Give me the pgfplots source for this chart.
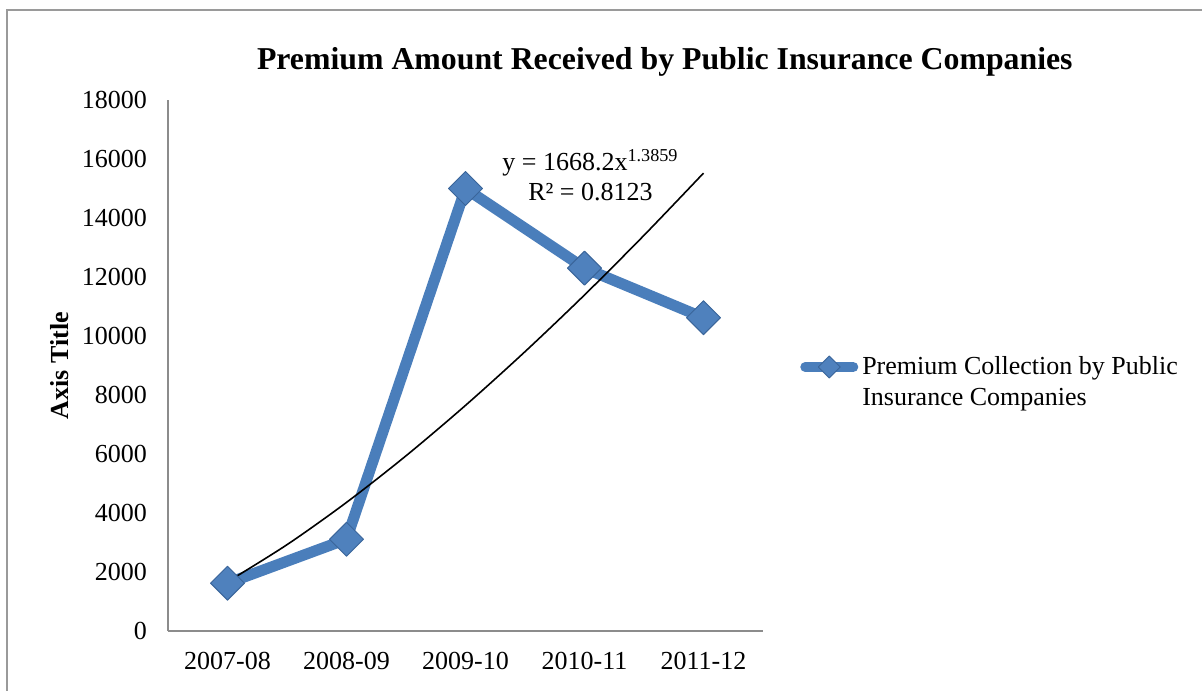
\documentclass[border=0pt]{standalone}
\usepackage{fontspec}
\setmainfont{Liberation Serif}
\usepackage{pgfplots}
\pgfplotsset{compat=1.18}
\definecolor{seriesblue}{HTML}{4A7EBB}
\definecolor{markblue}{HTML}{4F81BD}
\definecolor{markedge}{HTML}{3A659A}
\definecolor{framegray}{HTML}{9A9A9A}
\definecolor{axisgray}{HTML}{8C8C8C}
\begin{document}
\begin{tikzpicture}
% page: 1202 x 690 px at 0.5pt per px, origin top left
\fill[white] (0pt,0pt) rectangle (601pt,-345pt);
\useasboundingbox (0pt,0pt) rectangle (601pt,-345pt);
\draw[framegray, line width=0.8pt] (3.5pt,-360pt) -- (3.5pt,-5pt) -- (620pt,-5pt);
\begin{axis}[
    at={(84pt,-315.5pt)}, anchor=south west,
    width=297.5pt, height=265.5pt, scale only axis,
    xmin=0.5, xmax=5.5,
    ymin=0, ymax=18000,
    axis x line*=bottom, axis y line*=left,
    axis line style={axisgray, line width=0.8pt},
    major tick length=0pt,
    xtick={1,2,3,4,5},
    xticklabels={2007-08,2008-09,2009-10,2010-11,2011-12},
    ytick={0,2000,...,18000},
    scaled y ticks=false,
    /pgf/number format/1000 sep={},
    /pgf/number format/assume math mode=true,
    tick label style={font=\fontsize{13}{15.5}\selectfont},
    yticklabel style={xshift=-7pt},
    xticklabel style={yshift=-7pt},
    title={Premium Amount Received by Public Insurance Companies},
    title style={at={(axis description cs:0.835,1.049)}, anchor=center,
        font=\bfseries\fontsize{15.9}{19}\selectfont},
    ylabel={Axis Title},
    ylabel style={at={(axis description cs:-0.1815,0.5)}, anchor=center,
        font=\bfseries\fontsize{13}{15.5}\selectfont},
    legend style={draw=none, fill=none, at={(axis description cs:1.062,0.468)},
        anchor=west, font=\fontsize{13}{15.5}\selectfont,
        nodes={align=left}, inner sep=0pt},
    legend image code/.code={
        \draw[seriesblue, line width=5pt, line cap=round] (2.5pt,7.75pt) -- (26.5pt,7.75pt);
        \draw[markedge, fill=markblue, line width=0.4pt] (14.5pt,13.25pt) -- (20pt,7.75pt) -- (14.5pt,2.25pt) -- (9pt,7.75pt) -- cycle;
    },
    clip=false,
]
\addplot[seriesblue, line width=5.5pt, line join=round,
    mark=square*, mark size=6pt,
    mark options={rotate=45, fill=markblue, draw=markedge, line width=0.5pt}]
    coordinates {(1,1620)(2,3110)(3,15000)(4,12300)(5,10620)};
\addlegendentry{Premium Collection by Public\\Insurance Companies}
% power trendline
\addplot[black, line width=0.8pt, smooth, forget plot]
    coordinates {(1,1668)(1.5,2926)(2,4359)(2.5,5939)(3,7648)(3.5,9469)(4,11391)(4.5,13413)(5,15521)};
\node[align=center, font=\fontsize{13}{15}\selectfont]
    at (axis cs:4.05,15450) {y = 1668.2x\textsuperscript{1.3859}\\R² = 0.8123};
\end{axis}
\end{tikzpicture}
\end{document}
